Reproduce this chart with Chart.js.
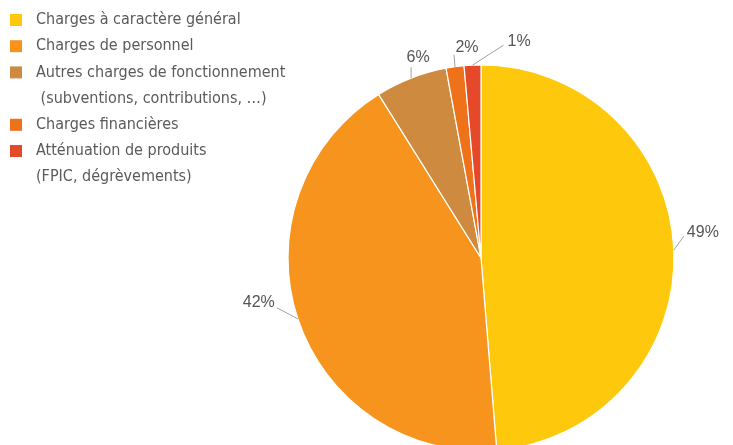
<!DOCTYPE html>
<html>
<head>
<meta charset="utf-8">
<script src="https://cdn.jsdelivr.net/npm/chart.js@4/dist/chart.umd.min.js"></script>
<style>
html,body{margin:0;padding:0;background:#fff;overflow:hidden;width:733px;height:445px;}
canvas{display:block;}
</style>
</head>
<body>
<canvas id="c" width="733" height="516"></canvas>
<script>
const categories = [
  ["Charges à caractère général"],
  ["Charges de personnel"],
  ["Autres charges de fonctionnement", " (subventions, contributions, …)"],
  ["Charges financières"],
  ["Atténuation de produits", "(FPIC, dégrèvements)"]
];
const values = [48.7, 42.4, 6.0, 1.5, 1.4];
const colors = ["#FEC90D", "#F7941E", "#CE8B3F", "#EE7219", "#E6492A"];

const legendFont = '16px "Liberation Sans Narrow", "DejaVu Sans Condensed", sans-serif';
const labelFont = '16px "Liberation Sans", Arial, sans-serif';

const legendPlugin = {
  id: 'sideLegend',
  afterDraw(chart) {
    const ctx = chart.ctx;
    ctx.save();
    ctx.font = legendFont;
    ctx.textBaseline = 'middle';
    let y = 20;
    const lh = 26.2;
    categories.forEach((lines, i) => {
      ctx.fillStyle = colors[i];
      ctx.fillRect(10, y - 6, 12, 12);
      ctx.fillStyle = '#5a5a5a';
      lines.forEach((t, j) => {
        ctx.fillText(t, 36, y);
        y += lh;
      });
    });
    ctx.restore();
  }
};

const labelPlugin = {
  id: 'pctLabels',
  afterDatasetsDraw(chart, args, opts) {
    const ctx = chart.ctx;
    const meta = chart.getDatasetMeta(0);
    const total = values.reduce((a, b) => a + b, 0);
    ctx.save();
    ctx.font = labelFont;
    ctx.textBaseline = 'middle';
    meta.data.forEach((arc, i) => {
      const p = arc.getProps(['x', 'y', 'startAngle', 'endAngle', 'outerRadius'], true);
      const a = (p.startAngle + p.endAngle) / 2;
      const ex = p.x + p.outerRadius * Math.cos(a);
      const ey = p.y + p.outerRadius * Math.sin(a);
      const o = opts.offsets[i];
      ctx.strokeStyle = '#a0a0a0';
      ctx.lineWidth = 1;
      ctx.beginPath();
      ctx.moveTo(ex, ey);
      ctx.lineTo(ex + o.elbow[0], ey + o.elbow[1]);
      ctx.stroke();
      ctx.fillStyle = '#555555';
      ctx.textAlign = o.align;
      const pct = Math.round(values[i] / total * 100) + '%';
      ctx.fillText(pct, ex + o.text[0], ey + o.text[1]);
    });
    ctx.restore();
  }
};

new Chart(document.getElementById('c'), {
  type: 'pie',
  data: {
    labels: categories.map(l => l.join(' ')),
    datasets: [{
      data: values,
      backgroundColor: colors,
      borderColor: '#ffffff',
      borderWidth: 1.2
    }]
  },
  options: {
    responsive: false,
    animation: false,
    radius: 193,
    layout: { padding: { left: 229, right: 0, top: 0, bottom: 0 } },
    plugins: {
      legend: { display: false },
      tooltip: { enabled: false },
      pctLabels: {
        offsets: [
          { elbow: [10, -14], text: [13, -18], align: 'left' },
          { elbow: [-21, -11], text: [-23, -16], align: 'right' },
          { elbow: [0, -11], text: [7, -21], align: 'center' },
          { elbow: [-1, -12], text: [12, -19], align: 'center' },
          { elbow: [31, -20], text: [35, -24], align: 'left' }
        ]
      }
    }
  },
  plugins: [legendPlugin, labelPlugin]
});
</script>
</body>
</html>
